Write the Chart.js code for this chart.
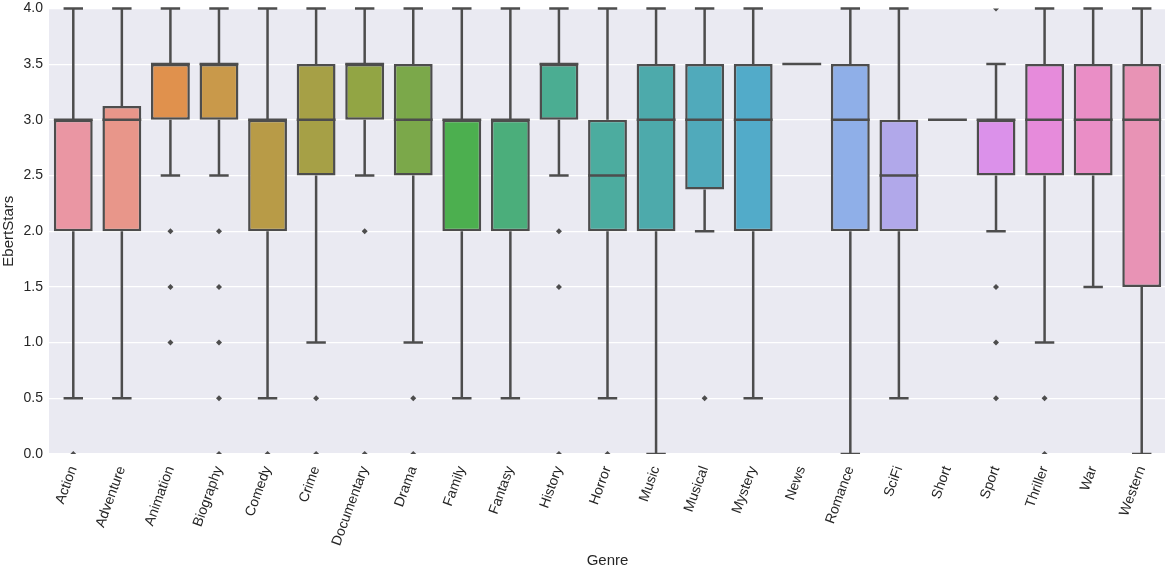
<!DOCTYPE html>
<html lang="en">
<head>
    <meta charset="UTF-8">
    <title>EbertStars by Genre</title>
    <script src="https://cdn.jsdelivr.net/npm/chart.js"></script>
    <style>
        body { margin: 0; background: #ffffff; overflow: hidden; }
        #wrap { width: 1170px; height: 572px; margin-top: -6px; }
    </style>
</head>
<body>
    <div id="wrap"><canvas id="boxChart"></canvas></div>

    <script>
        const genres = ['Action', 'Adventure', 'Animation', 'Biography', 'Comedy', 'Crime', 'Documentary', 'Drama',
            'Family', 'Fantasy', 'History', 'Horror', 'Music', 'Musical', 'Mystery', 'News', 'Romance', 'SciFi',
            'Short', 'Sport', 'Thriller', 'War', 'Western'];
        const whiskerLow  = [0.5, 0.5, 2.5, 2.5, 0.5, 1.0, 2.5, 1.0, 0.5, 0.5, 2.5, 0.5, 0.0, 2.0, 0.5, 3.5, 0.0, 0.5, 3.0, 2.0, 1.0, 1.5, 0.0];
        const q1          = [2.0, 2.0, 3.0, 3.0, 2.0, 2.5, 3.0, 2.5, 2.0, 2.0, 3.0, 2.0, 2.0, 2.375, 2.0, 3.5, 2.0, 2.0, 3.0, 2.5, 2.5, 2.5, 1.5];
        const median      = [3.0, 3.0, 3.5, 3.5, 3.0, 3.0, 3.5, 3.0, 3.0, 3.0, 3.5, 2.5, 3.0, 3.0, 3.0, 3.5, 3.0, 2.5, 3.0, 3.0, 3.0, 3.0, 3.0];
        const q3          = [3.0, 3.125, 3.5, 3.5, 3.0, 3.5, 3.5, 3.5, 3.0, 3.0, 3.5, 3.0, 3.5, 3.5, 3.5, 3.5, 3.5, 3.0, 3.0, 3.0, 3.5, 3.5, 3.5];
        const whiskerHigh = [4.0, 4.0, 4.0, 4.0, 4.0, 4.0, 4.0, 4.0, 4.0, 4.0, 4.0, 4.0, 4.0, 4.0, 4.0, 3.5, 4.0, 4.0, 3.0, 3.5, 4.0, 4.0, 4.0];
        const outliers = [
            [0], [], [2.0, 1.5, 1.0], [2.0, 1.5, 1.0, 0.5, 0], [0], [0.5, 0], [2.0, 0], [0.5, 0],
            [], [], [2.0, 1.5, 0], [0], [], [0.5], [], [], [], [],
            [], [4.0, 1.5, 1.0, 0.5], [0.5, 0], [], []
        ];
        const boxColors = ['#ea96a3', '#e8968a', '#e0914d', '#c9994a', '#b89b47', '#a6a046', '#92a544', '#7ba84a',
            '#4caf4f', '#4bae7b', '#4bad92', '#4cac9f', '#4daaab', '#50aabb', '#52abc9', '#6fb0e0', '#8fafe8', '#b1a8ea',
            '#c9a0ea', '#db91ea', '#e68bdb', '#ea8ec6', '#e893b5'];

        const lineGray = '#4d4d4d';

        const outlierPoints = [];
        outliers.forEach((list, i) => list.forEach(v => outlierPoints.push({ x: genres[i], y: v })));

        // whiskers behind the boxes, medians on top
        const boxParts = {
            id: 'boxParts',
            beforeDatasetsDraw(chart) {
                const { ctx, chartArea, scales: { x, y } } = chart;
                const bars = chart.getDatasetMeta(0).data;
                ctx.save();
                ctx.beginPath();
                ctx.rect(chartArea.left, chartArea.top - 2, chartArea.right - chartArea.left, chartArea.bottom - chartArea.top + 2);
                ctx.clip();
                ctx.strokeStyle = lineGray;
                ctx.lineWidth = 2.5;
                genres.forEach((g, i) => {
                    const cx = x.getPixelForValue(i);
                    const half = bars[i].width / 4;
                    if (whiskerHigh[i] > q3[i]) {
                        ctx.beginPath();
                        ctx.moveTo(cx, y.getPixelForValue(q3[i]));
                        ctx.lineTo(cx, y.getPixelForValue(whiskerHigh[i]));
                        ctx.moveTo(cx - half, y.getPixelForValue(whiskerHigh[i]));
                        ctx.lineTo(cx + half, y.getPixelForValue(whiskerHigh[i]));
                        ctx.stroke();
                    }
                    if (whiskerLow[i] < q1[i]) {
                        ctx.beginPath();
                        ctx.moveTo(cx, y.getPixelForValue(q1[i]));
                        ctx.lineTo(cx, y.getPixelForValue(whiskerLow[i]));
                        ctx.moveTo(cx - half, y.getPixelForValue(whiskerLow[i]));
                        ctx.lineTo(cx + half, y.getPixelForValue(whiskerLow[i]));
                        ctx.stroke();
                    }
                });
                ctx.restore();
            },
            afterDatasetsDraw(chart) {
                const { ctx, scales: { x, y } } = chart;
                const bars = chart.getDatasetMeta(0).data;
                ctx.save();
                ctx.strokeStyle = lineGray;
                ctx.lineWidth = 2.5;
                genres.forEach((g, i) => {
                    const cx = x.getPixelForValue(i);
                    const w = bars[i].width / 2;
                    const py = y.getPixelForValue(median[i]);
                    ctx.beginPath();
                    ctx.moveTo(cx - w, py);
                    ctx.lineTo(cx + w, py);
                    ctx.stroke();
                });
                ctx.restore();
            }
        };

        const plotBg = {
            id: 'plotBg',
            beforeDraw(chart) {
                const { ctx, chartArea: a } = chart;
                ctx.save();
                ctx.fillStyle = '#eaeaf2';
                ctx.fillRect(a.left, a.top, a.right - a.left, a.bottom - a.top);
                ctx.restore();
            }
        };

        Chart.defaults.font.family = '"Liberation Sans", Arial, sans-serif';
        Chart.defaults.color = '#262626';

        new Chart(document.getElementById('boxChart'), {
            type: 'bar',
            data: {
                labels: genres,
                datasets: [{
                    data: q1.map((v, i) => [v, q3[i]]),
                    backgroundColor: boxColors,
                    borderColor: lineGray,
                    borderWidth: 2.5,
                    borderSkipped: false,
                    categoryPercentage: 0.8,
                    barPercentage: 1.0,
                    order: 2
                }, {
                    type: 'line',
                    data: outlierPoints,
                    showLine: false,
                    pointStyle: 'rectRot',
                    pointRadius: 3,
                    pointBackgroundColor: lineGray,
                    pointBorderColor: lineGray,
                    pointBorderWidth: 0,
                    clip: 0,
                    order: 1
                }]
            },
            options: {
                responsive: true,
                maintainAspectRatio: false,
                animation: false,
                layout: { padding: 0 },
                plugins: {
                    legend: { display: false },
                    tooltip: { enabled: false }
                },
                scales: {
                    x: {
                        grid: { display: false },
                        border: { display: false },
                        ticks: { maxRotation: 70, minRotation: 70, autoSkip: false, font: { size: 14 }, padding: 2 },
                        title: { display: true, text: 'Genre', font: { size: 15 }, padding: { top: 4, bottom: -4 } },
                        afterFit(scale) { scale.height = 112; }
                    },
                    y: {
                        min: 0,
                        max: 4,
                        grid: { color: '#ffffff', lineWidth: 1.2, drawTicks: false },
                        border: { display: false },
                        ticks: { stepSize: 0.5, font: { size: 14 }, padding: 6, callback: v => v.toFixed(1) },
                        title: { display: true, text: 'EbertStars', font: { size: 15 }, padding: { top: 0, bottom: 4 } },
                        afterFit(scale) { scale.width = 49; }
                    }
                }
            },
            plugins: [plotBg, boxParts]
        });
    </script>
</body>
</html>
